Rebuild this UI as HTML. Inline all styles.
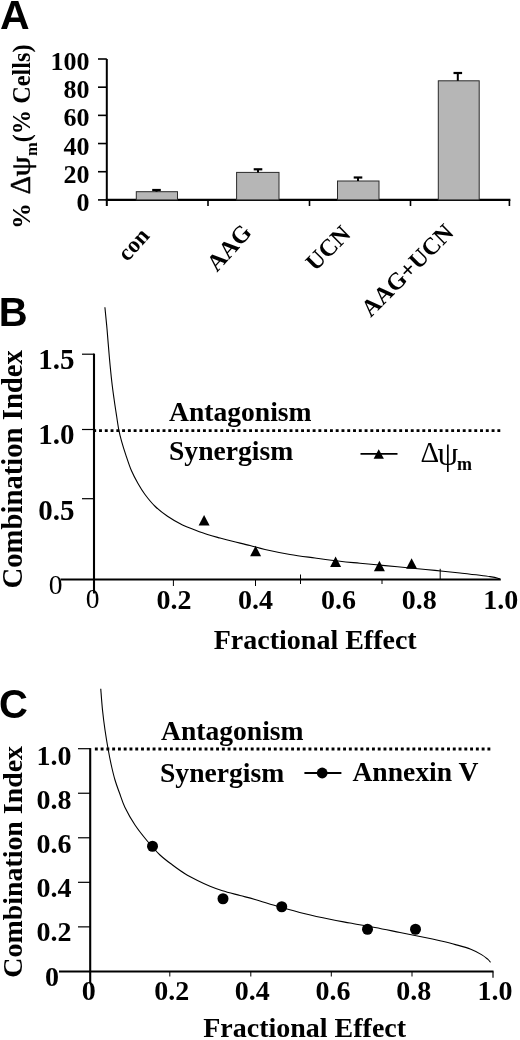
<!DOCTYPE html>
<html lang="en">
<head>
<meta charset="utf-8">
<title>Figure</title>
<style>
html,body{margin:0;padding:0;background:#fff;}
body{width:520px;height:1040px;overflow:hidden;}
svg{display:block;}
.s{font-family:"Liberation Serif", "DejaVu Serif", serif;font-weight:bold;fill:#000;}
.r{font-family:"Liberation Serif", "DejaVu Serif", serif;font-weight:normal;fill:#000;}
.p{font-family:"Liberation Sans", "DejaVu Sans", sans-serif;font-weight:bold;fill:#000;}
.ax{stroke:#000;fill:none;}
</style>
</head>
<body>
<svg width="520" height="1040" viewBox="0 0 520 1040">
<rect width="520" height="1040" fill="#fff"/>
<g id="panelA">
<text class="p" x="0" y="29.4" font-size="41">A</text>
<path class="ax" stroke-width="2" d="M106.8 59 V206"/>
<path class="ax" stroke-width="2.2" d="M105.8 199.9 H510.4"/>
<path class="ax" stroke-width="1.6" d="M98 59 H106.8"/>
<text class="s" x="89.5" y="70" font-size="26" text-anchor="end">100</text>
<path class="ax" stroke-width="1.6" d="M98 87.18 H106.8"/>
<text class="s" x="89.5" y="98.18" font-size="26" text-anchor="end">80</text>
<path class="ax" stroke-width="1.6" d="M98 115.36 H106.8"/>
<text class="s" x="89.5" y="126.36" font-size="26" text-anchor="end">60</text>
<path class="ax" stroke-width="1.6" d="M98 143.54 H106.8"/>
<text class="s" x="89.5" y="154.54" font-size="26" text-anchor="end">40</text>
<path class="ax" stroke-width="1.6" d="M98 171.72 H106.8"/>
<text class="s" x="89.5" y="182.72" font-size="26" text-anchor="end">20</text>
<path class="ax" stroke-width="1.6" d="M98 199.9 H106.8"/>
<text class="s" x="89.5" y="210.9" font-size="26" text-anchor="end">0</text>
<path class="ax" stroke-width="1.6" d="M208 199.9 V206"/>
<path class="ax" stroke-width="1.6" d="M309.5 199.9 V206"/>
<path class="ax" stroke-width="1.6" d="M410.5 199.9 V206"/>
<path class="ax" stroke-width="1.6" d="M509.4 199.9 V206"/>
<rect x="136.3" y="191.7" width="41.2" height="8.2" fill="#b6b6b6" stroke="#2a2a2a" stroke-width="1"/>
<path class="ax" stroke-width="2" d="M156.5 191.7 V190"/><path class="ax" stroke-width="2.2" d="M152.2 190 H160.8"/>
<rect x="236.6" y="172.4" width="42.4" height="27.5" fill="#b6b6b6" stroke="#2a2a2a" stroke-width="1"/>
<path class="ax" stroke-width="2" d="M258 172.4 V169.3"/><path class="ax" stroke-width="2.2" d="M253.7 169.3 H262.3"/>
<rect x="337.5" y="181" width="41.5" height="18.9" fill="#b6b6b6" stroke="#2a2a2a" stroke-width="1"/>
<path class="ax" stroke-width="2" d="M358 181 V177.5"/><path class="ax" stroke-width="2.2" d="M353.7 177.5 H362.3"/>
<rect x="438.3" y="80.8" width="40.9" height="119.1" fill="#b6b6b6" stroke="#2a2a2a" stroke-width="1"/>
<path class="ax" stroke-width="2" d="M457.8 80.8 V73"/><path class="ax" stroke-width="2.2" d="M453.5 73 H462.1"/>
<text class="s" font-size="23" text-anchor="end" transform="translate(150.5 236.5) rotate(-48)">con</text>
<text class="s" font-size="24" text-anchor="end" transform="translate(252.8 233.2) rotate(-48)">AAG</text>
<text class="s" font-size="24" text-anchor="end" transform="translate(352 235.3) rotate(-45)">UCN</text>
<text class="s" font-size="24" text-anchor="end" transform="translate(455 233.8) rotate(-45)">AAG+UCN</text>
<text class="s" font-size="26" transform="translate(29.8 229) rotate(-90)">%</text>
<text class="r" font-size="30" stroke="#000" stroke-width="0.5" transform="translate(29.8 194.2) rotate(-90) scale(0.95 1)">Δ</text>
<text class="r" font-size="27" stroke="#000" stroke-width="0.5" transform="translate(29.8 176.4) rotate(-90) scale(1.2 1)">ψ</text>
<text class="s" font-size="16.5" transform="translate(37 156) rotate(-90)">m</text>
<text class="s" font-size="24.3" transform="translate(29.8 142.3) rotate(-90)">(% Cells)</text>
</g>
<g id="panelB">
<text class="p" x="-1.3" y="326" font-size="40">B</text>
<path class="ax" stroke-width="2.1" d="M94 353.6 V593.5"/>
<path class="ax" stroke-width="2" d="M60.5 579.4 H500.8"/>
<path class="ax" stroke-width="1.2" d="M82 354.2 H94"/>
<text class="s" x="74.5" y="368.8" font-size="29" text-anchor="end">1.5</text>
<path class="ax" stroke-width="1.2" d="M82 429.5 H94"/>
<text class="s" x="74.5" y="443.8" font-size="29" text-anchor="end">1.0</text>
<path class="ax" stroke-width="1.2" d="M82 498.7 H94"/>
<text class="s" x="74.5" y="520" font-size="29" text-anchor="end">0.5</text>
<text class="r" x="55.5" y="594" font-size="27.5" text-anchor="middle">0</text>
<text class="r" x="92.5" y="607.8" font-size="27.5" text-anchor="middle">0</text>
<text class="s" x="174" y="609" font-size="28" text-anchor="middle">0.2</text>
<text class="s" x="255.5" y="609" font-size="28" text-anchor="middle">0.4</text>
<text class="s" x="338.5" y="609" font-size="28" text-anchor="middle">0.6</text>
<text class="s" x="419.3" y="609" font-size="28" text-anchor="middle">0.8</text>
<text class="s" x="500.8" y="609" font-size="28" text-anchor="middle">1.0</text>
<path class="ax" stroke-width="1" d="M173.4 579.4 V586"/>
<path class="ax" stroke-width="1" d="M255.5 579.4 V586"/>
<path class="ax" stroke-width="1" d="M382 579.4 V584"/>
<path class="ax" stroke-width="1" d="M300.5 574.5 V584"/>
<path class="ax" stroke-width="1" d="M440.2 568.8 V579.4"/>
<path class="ax" stroke-width="2.9" stroke-dasharray="2.9 2.873" d="M93.27 430.6 H501"/>
<text class="s" x="169" y="420.8" font-size="27.6">Antagonism</text>
<text class="s" x="169" y="460.4" font-size="27.6">Synergism</text>
<path class="ax" stroke-width="1.8" d="M360.5 453.8 H397.5"/>
<path d="M373.6 458.8 L383.9 458.8 L378.75 449.3 Z" fill="#000"/>
<text class="r" x="420.5" y="462" font-size="29">Δ</text>
<text class="r" x="437.5" y="464.5" font-size="33">ψ</text>
<text class="s" x="457" y="469.6" font-size="18">m</text>
<path class="ax" stroke-width="1.1" d="M104.9 307.2 C105.25 310.8 106.25 320.38 107 328.8 C107.75 337.22 108.6 348.88 109.4 357.7 C110.2 366.52 111 374.65 111.8 381.7 C112.6 388.75 113.4 394.28 114.2 400 C115 405.72 115.83 411.03 116.6 416 C117.37 420.97 117.97 425.58 118.8 429.8 C119.63 434.02 120.43 437.13 121.6 441.3 C122.77 445.47 124.15 449.88 125.8 454.8 C127.45 459.72 129.47 466.02 131.5 470.8 C133.53 475.58 135.75 479.55 138 483.5 C140.25 487.45 142.17 490.71 145 494.5 C147.83 498.29 151.25 502.62 155 506.25 C158.75 509.88 162.92 513.12 167.5 516.25 C172.08 519.38 177.92 522.71 182.5 525 C187.08 527.29 190.83 528.42 195 530 C199.17 531.58 203.33 533.17 207.5 534.5 C211.67 535.83 215.83 536.88 220 538 C224.17 539.12 227.5 540 232.5 541.25 C237.5 542.5 244.58 544.12 250 545.5 C255.42 546.88 258.33 548 265 549.5 C271.67 551 281.67 553.08 290 554.5 C298.33 555.92 306.67 556.88 315 558 C323.33 559.12 332.5 560.38 340 561.25 C347.5 562.12 352.5 562.48 360 563.2 C367.5 563.93 376.67 564.8 385 565.6 C393.33 566.4 401.67 567.2 410 568 C418.33 568.8 426.67 569.57 435 570.4 C443.33 571.23 450.83 571.97 460 573 C469.17 574.03 483.33 575.6 490 576.6 C496.67 577.6 498.33 578.6 500 579"/>
<path d="M198.6 525.5 L209.6 525.5 L204.1 515 Z" fill="#000"/>
<path d="M250.1 556.3 L261.1 556.3 L255.6 545.8 Z" fill="#000"/>
<path d="M330.1 567 L341.1 567 L335.6 556.5 Z" fill="#000"/>
<path d="M373.9 571.3 L384.9 571.3 L379.4 560.8 Z" fill="#000"/>
<path d="M406.1 568.8 L417.1 568.8 L411.6 558.3 Z" fill="#000"/>
<text class="s" x="213.75" y="649.3" font-size="28">Fractional Effect</text>
<text class="s" font-size="28.7" text-anchor="middle" transform="translate(22 469.3) rotate(-90)">Combination Index</text>
</g>
<g id="panelC">
<text class="p" x="-1" y="717.6" font-size="40">C</text>
<path class="ax" stroke-width="2.1" d="M90.2 748.1 V983"/>
<path class="ax" stroke-width="2" d="M59 971.4 H493.5"/>
<path class="ax" stroke-width="1.2" d="M493 971.4 V977.7"/>
<path class="ax" stroke-width="1.2" d="M78 748.7 H90.2"/>
<text class="s" x="71.6" y="765" font-size="28" text-anchor="end">1.0</text>
<path class="ax" stroke-width="1.2" d="M78 793.24 H90.2"/>
<text class="s" x="71.6" y="809.05" font-size="28" text-anchor="end">0.8</text>
<path class="ax" stroke-width="1.2" d="M78 837.78 H90.2"/>
<text class="s" x="71.6" y="853.1" font-size="28" text-anchor="end">0.6</text>
<path class="ax" stroke-width="1.2" d="M78 882.32 H90.2"/>
<text class="s" x="71.6" y="897.15" font-size="28" text-anchor="end">0.4</text>
<path class="ax" stroke-width="1.2" d="M78 926.86 H90.2"/>
<text class="s" x="71.6" y="941.2" font-size="28" text-anchor="end">0.2</text>
<text class="s" x="52" y="985.8" font-size="28" text-anchor="middle">0</text>
<text class="s" x="88.75" y="1000" font-size="28" text-anchor="middle">0</text>
<text class="s" x="171.7" y="1000" font-size="28" text-anchor="middle">0.2</text>
<text class="s" x="252.3" y="1000" font-size="28" text-anchor="middle">0.4</text>
<text class="s" x="333" y="1000" font-size="28" text-anchor="middle">0.6</text>
<text class="s" x="413.75" y="1000" font-size="28" text-anchor="middle">0.8</text>
<text class="s" x="495" y="1000" font-size="28" text-anchor="middle">1.0</text>
<path class="ax" stroke-width="1" d="M169.8 971.4 V976.5"/>
<path class="ax" stroke-width="1" d="M250.8 971.4 V976.5"/>
<path class="ax" stroke-width="1" d="M331.3 971.4 V976.5"/>
<path class="ax" stroke-width="1" d="M412 971.4 V976.5"/>
<path class="ax" stroke-width="2.9" stroke-dasharray="2.9 2.873" d="M94.87 749 H491"/>
<text class="s" x="161" y="740" font-size="27.6">Antagonism</text>
<text class="s" x="160" y="781.6" font-size="27.6">Synergism</text>
<path class="ax" stroke-width="1.8" d="M304.4 773 H341.4"/>
<circle cx="322.2" cy="773" r="5.4" fill="#000"/>
<text class="s" x="352.4" y="781.2" font-size="27.6">Annexin V</text>
<path class="ax" stroke-width="1.1" d="M100.75 688.75 C101.04 692.29 101.79 703.12 102.5 710 C103.21 716.88 104.07 723.5 105 730 C105.93 736.5 107.06 743.17 108.1 749 C109.14 754.83 110.1 759.83 111.25 765 C112.4 770.17 113.62 775.33 115 780 C116.38 784.67 117.83 788.42 119.5 793 C121.17 797.58 122.42 802.17 125 807.5 C127.58 812.83 131.25 819.38 135 825 C138.75 830.62 143.33 836.25 147.5 841.25 C151.67 846.25 155.83 851.04 160 855 C164.17 858.96 168.33 861.88 172.5 865 C176.67 868.12 180.83 871.17 185 873.75 C189.17 876.33 193.33 878.42 197.5 880.5 C201.67 882.58 205.83 884.54 210 886.25 C214.17 887.96 217.5 889.21 222.5 890.75 C227.5 892.29 234.58 894.04 240 895.5 C245.42 896.96 248.33 897.58 255 899.5 C261.67 901.42 271.67 904.62 280 907 C288.33 909.38 296.67 911.7 305 913.75 C313.33 915.8 322.5 917.76 330 919.3 C337.5 920.84 342.5 921.63 350 923 C357.5 924.37 366.67 925.92 375 927.5 C383.33 929.08 391.67 930.83 400 932.5 C408.33 934.17 418.33 936.12 425 937.5 C431.67 938.88 434.93 939.62 440 940.8 C445.07 941.98 450.27 943.2 455.4 944.6 C460.53 946 466.45 947.53 470.8 949.2 C475.15 950.87 478.68 952.93 481.5 954.6 C484.32 956.27 486.2 957.92 487.7 959.2 C489.2 960.48 490.03 961.78 490.5 962.3"/>
<circle cx="152.5" cy="846.25" r="5.5" fill="#000"/>
<circle cx="223" cy="898.75" r="5.5" fill="#000"/>
<circle cx="281.75" cy="906.75" r="5.5" fill="#000"/>
<circle cx="367.5" cy="929.25" r="5.5" fill="#000"/>
<circle cx="415.5" cy="929.25" r="5.5" fill="#000"/>
<text class="s" x="203.2" y="1037.4" font-size="28">Fractional Effect</text>
<text class="s" font-size="27.9" text-anchor="middle" transform="translate(22 861.8) rotate(-90)">Combination Index</text>
</g>
</svg>
</body>
</html>
